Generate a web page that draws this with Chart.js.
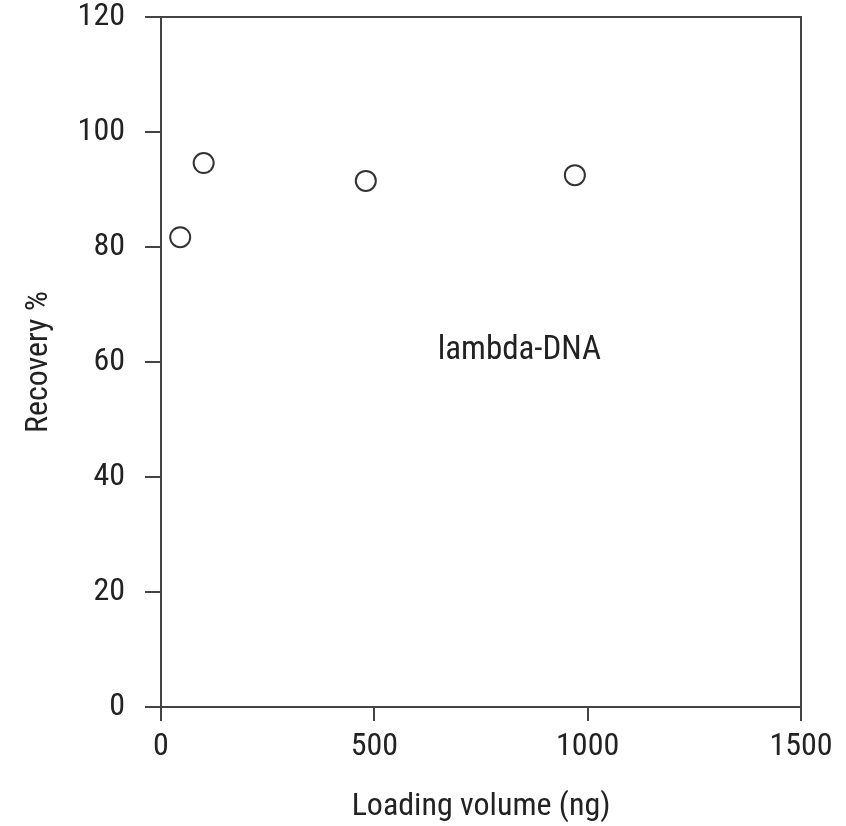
<!DOCTYPE html>
<html>
<head>
<meta charset="utf-8">
<script src="https://cdn.jsdelivr.net/npm/chart.js@4/dist/chart.umd.min.js"></script>
<style>
  html, body { margin: 0; padding: 0; background: #fff; }
  #wrap { width: 846px; height: 826px; }
</style>
</head>
<body>
<div id="wrap"><canvas id="recovery-chart" width="846" height="826"></canvas></div>
<script>
// Data
const loadingNg = [45, 100, 480, 970];
const recoveryPct = [81.7, 94.6, 91.5, 92.5];
const xTicks = [0, 500, 1000, 1500];
const yTicks = [0, 20, 40, 60, 80, 100, 120];
const seriesLabel = 'lambda-DNA';
const labelAt = { x: 840, y: 62 };

const ink = '#222';
const fontFamily = '"Liberation Sans Narrow", "Roboto Condensed", Roboto, sans-serif';

// draws the box round the plot area and the series label
const framePlugin = {
    id: 'frame',
    afterDraw(chart) {
        const { ctx, chartArea, scales } = chart;
        ctx.save();
        ctx.strokeStyle = '#444';
        ctx.lineWidth = 2;
        ctx.beginPath();
        ctx.moveTo(chartArea.left, chartArea.top);
        ctx.lineTo(chartArea.right, chartArea.top);
        ctx.lineTo(chartArea.right, chartArea.bottom);
        ctx.stroke();

        ctx.fillStyle = ink;
        ctx.font = '33px ' + fontFamily;
        ctx.textAlign = 'center';
        ctx.textBaseline = 'middle';
        ctx.fillText(seriesLabel, scales.x.getPixelForValue(labelAt.x), scales.y.getPixelForValue(labelAt.y));
        ctx.restore();
    }
};

const ctx = document.getElementById('recovery-chart').getContext('2d');
new Chart(ctx, {
    type: 'scatter',
    data: {
        datasets: [{
            label: seriesLabel,
            data: loadingNg.map((x, i) => ({ x: x, y: recoveryPct[i] })),
            pointStyle: 'circle',
            pointRadius: 10,
            borderWidth: 2,
            borderColor: '#333',
            backgroundColor: '#fff'
        }]
    },
    options: {
        responsive: false,
        animation: false,
        layout: { padding: { top: 0, right: 45, bottom: 0, left: 0 } },
        plugins: {
            legend: { display: false },
            tooltip: { enabled: false }
        },
        scales: {
            x: {
                type: 'linear',
                min: xTicks[0],
                max: xTicks[xTicks.length - 1],
                afterBuildTicks: (scale) => { scale.ticks = xTicks.map(v => ({ value: v })); },
                afterFit: (scale) => { scale.height = 119; },
                grid: { drawOnChartArea: false, drawTicks: true, tickLength: 14, color: '#444', lineWidth: 2 },
                border: { display: true, color: '#444', width: 2 },
                ticks: { color: ink, padding: 7, font: { family: fontFamily, size: 32 }, callback: v => String(v) },
                title: {
                    display: true,
                    text: 'Loading volume (ng)',
                    color: ink,
                    font: { family: fontFamily, size: 32 },
                    padding: { top: 0, bottom: 0 }
                }
            },
            y: {
                type: 'linear',
                min: yTicks[0],
                max: yTicks[yTicks.length - 1],
                afterBuildTicks: (scale) => { scale.ticks = yTicks.map(v => ({ value: v })); },
                afterFit: (scale) => {
                    scale.width = 161;
                    scale.paddingTop = 17;
                    scale.paddingBottom = 0;
                },
                grid: { drawOnChartArea: false, drawTicks: true, tickLength: 16, color: '#444', lineWidth: 2 },
                border: { display: true, color: '#444', width: 2 },
                ticks: { color: ink, padding: 20, font: { family: fontFamily, size: 32 }, callback: v => String(v) },
                title: {
                    display: true,
                    text: 'Recovery %',
                    color: ink,
                    font: { family: fontFamily, size: 32 },
                    padding: { top: 20, bottom: 0 }
                }
            }
        }
    },
    plugins: [framePlugin]
});
</script>
</body>
</html>
